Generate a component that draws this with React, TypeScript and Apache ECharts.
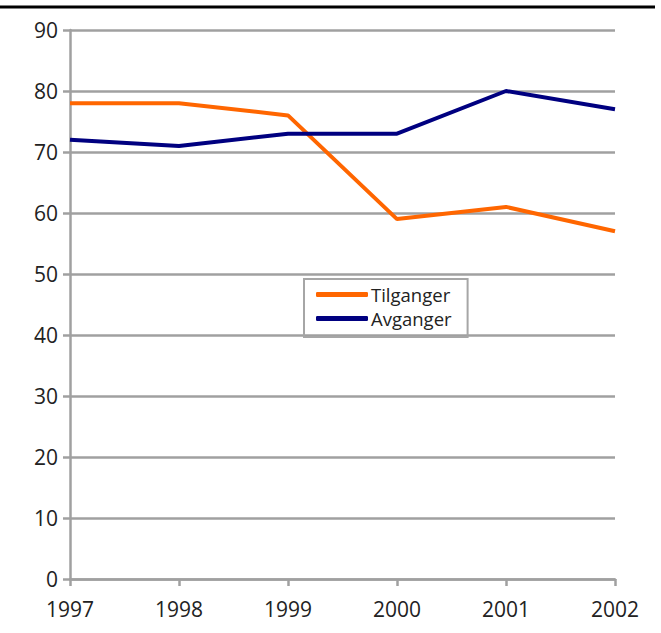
import React, { useEffect, useRef } from "react";
import * as echarts from "echarts";

const years = ["1997", "1998", "1999", "2000", "2001", "2002"];
const tilganger = [78, 78, 76, 59, 61, 57];
const avganger = [72, 71, 73, 73, 80, 77];
const seriesNames = ["Tilganger", "Avganger"];

export default function App() {
  const ref = useRef<HTMLDivElement>(null);
  useEffect(() => {
    const chart = echarts.init(ref.current!, null, { renderer: "svg" });
    const font = "'Open Sans', 'Noto Sans', sans-serif";
    const gridColor = "#a0a0a0";
    chart.setOption({
      animation: false,
      backgroundColor: "#ffffff",
      textStyle: { fontFamily: font },
      grid: { left: 70, right: 46, top: 30, bottom: 54 },
      graphic: [
        {
          type: "line",
          shape: { x1: 0, y1: 7, x2: 655, y2: 7 },
          style: { stroke: "#000000", lineWidth: 3 },
        },
      ],
      legend: {
        orient: "vertical",
        left: 304,
        top: 279,
        padding: [6, 16, 9, 12],
        borderColor: "#a6a6a6",
        borderWidth: 2,
        itemWidth: 52,
        itemHeight: 5,
        itemGap: 5,
        icon: "roundRect",
        textStyle: {
          fontFamily: font,
          fontSize: 18.5,
          lineHeight: 18,
          color: "#222",
          padding: [0, 0, 0, -2],
        },
        data: seriesNames,
      },
      xAxis: {
        type: "category",
        data: years,
        boundaryGap: false,
        axisLine: { lineStyle: { color: gridColor, width: 2.5 } },
        axisTick: { show: true, length: 7, lineStyle: { color: gridColor, width: 2.5 } },
        axisLabel: { fontSize: 21, color: "#222", margin: 19, fontFamily: font },
      },
      yAxis: {
        type: "value",
        min: 0,
        max: 90,
        interval: 10,
        axisLine: { show: true, lineStyle: { color: gridColor, width: 2.5 } },
        axisTick: { show: true, length: 7, lineStyle: { color: gridColor, width: 2.5 } },
        axisLabel: { fontSize: 21, color: "#222", margin: 12, fontFamily: font },
        splitLine: { show: true, lineStyle: { color: gridColor, width: 2.5 } },
      },
      series: [
        {
          name: seriesNames[0],
          type: "line",
          data: tilganger,
          symbol: "none",
          color: "#ff6600",
          lineStyle: { color: "#ff6600", width: 4 },
        },
        {
          name: seriesNames[1],
          type: "line",
          data: avganger,
          symbol: "none",
          color: "#000080",
          lineStyle: { color: "#000080", width: 4 },
        },
      ],
    });
    return () => chart.dispose();
  }, []);
  return <div ref={ref} style={{ width: 661, height: 633, position: "absolute", left: 0, top: 0 }} />;
}
